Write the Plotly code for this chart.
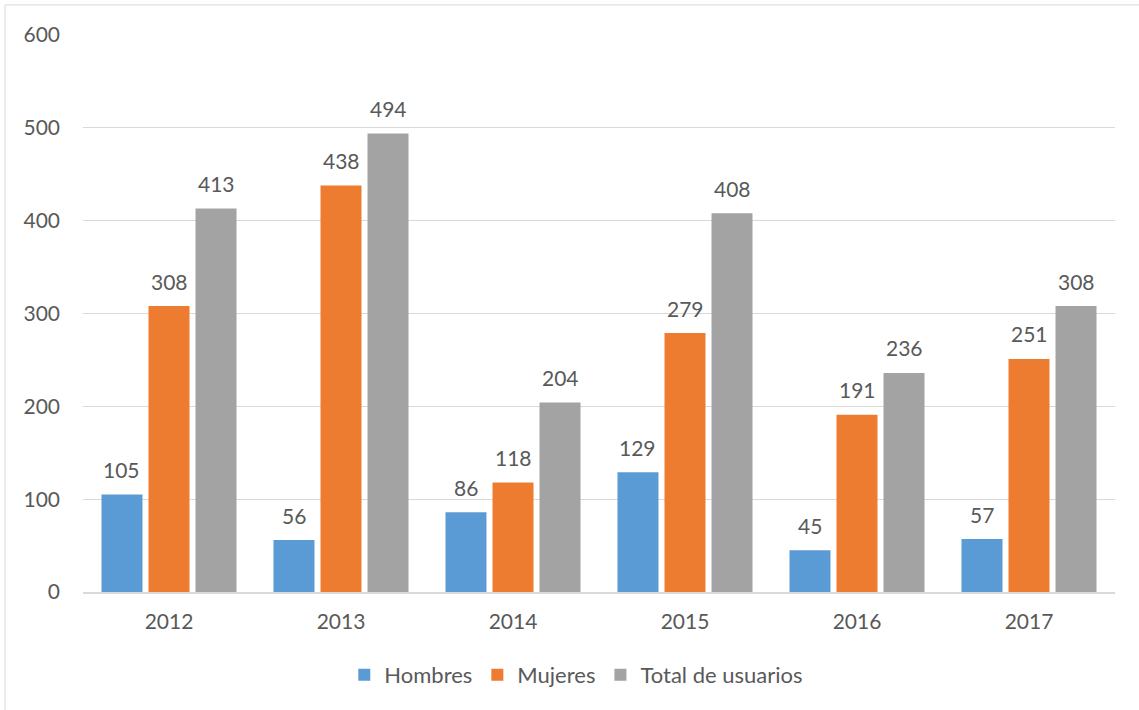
import plotly.graph_objects as go

years = ["2012", "2013", "2014", "2015", "2016", "2017"]
hombres = [105, 56, 86, 129, 45, 57]
mujeres = [308, 438, 118, 279, 191, 251]
total = [413, 494, 204, 408, 236, 308]
y_ticks = [0, 100, 200, 300, 400, 500, 600]

series = [
    ("Hombres", hombres, "#5b9bd5"),
    ("Mujeres", mujeres, "#ee7c30"),
    ("Total de usuarios", total, "#a3a3a3"),
]

FONT = "Lato, 'Open Sans', sans-serif"
TXT = "#595959"
BARGAP = 0.18
GROUPGAP = 0.128
CAT_PX = (1139 - 83 - 24) / len(years)
SLOT_PX = CAT_PX * (1 - BARGAP) / len(series)

fig = go.Figure()
annotations = []
for i, (name, vals, col) in enumerate(series):
    fig.add_trace(go.Bar(
        x=years, y=vals, name=name,
        marker=dict(color=col, line=dict(width=0)),
        hoverinfo="skip",
    ))
    for j, v in enumerate(vals):
        # category axis: position j is the j-th year
        annotations.append(dict(
            x=j, y=v, xref="x", yref="y", text=str(v), showarrow=False,
            xshift=(i - 1) * SLOT_PX, yshift=25, yanchor="middle",
            font=dict(size=21, color=TXT, family=FONT),
        ))

fig.update_layout(
    width=1139, height=710,
    margin=dict(l=83, r=24, t=35, b=118),
    paper_bgcolor="white", plot_bgcolor="white",
    barmode="group", bargap=BARGAP, bargroupgap=GROUPGAP,
    font=dict(family=FONT, size=21, color=TXT),
    showlegend=True,
    legend=dict(orientation="h", x=0.478, xanchor="center", y=-0.149, yanchor="middle",
                font=dict(size=22, color=TXT), itemwidth=30, traceorder="normal"),
    xaxis=dict(type="category", categoryorder="array", categoryarray=years,
               range=[-0.5, len(years) - 0.5],
               showgrid=False, showline=True, linecolor="#d9d9d9", linewidth=2,
               ticks="", tickfont=dict(size=21, color=TXT), ticklabelstandoff=10),
    yaxis=dict(range=[0, 600], tickvals=y_ticks, showgrid=True, gridcolor="#d9d9d9",
               gridwidth=1, zeroline=False, showline=False, ticks="",
               tickfont=dict(size=21, color=TXT), ticklabelstandoff=22),
    annotations=annotations,
    shapes=[
        dict(type="line", xref="paper", yref="paper", x0=-0.0756, x1=-0.0756,
             y0=1.054, y1=-0.3, line=dict(color="#d9d9d9", width=1)),
        dict(type="line", xref="paper", yref="paper", x0=-0.0756, x1=1.1,
             y0=1.054, y1=1.054, line=dict(color="#d9d9d9", width=1)),
    ],
)

fig.write_html("out.html", config={"displayModeBar": False},
               post_script="document.body.style.margin='0';")
